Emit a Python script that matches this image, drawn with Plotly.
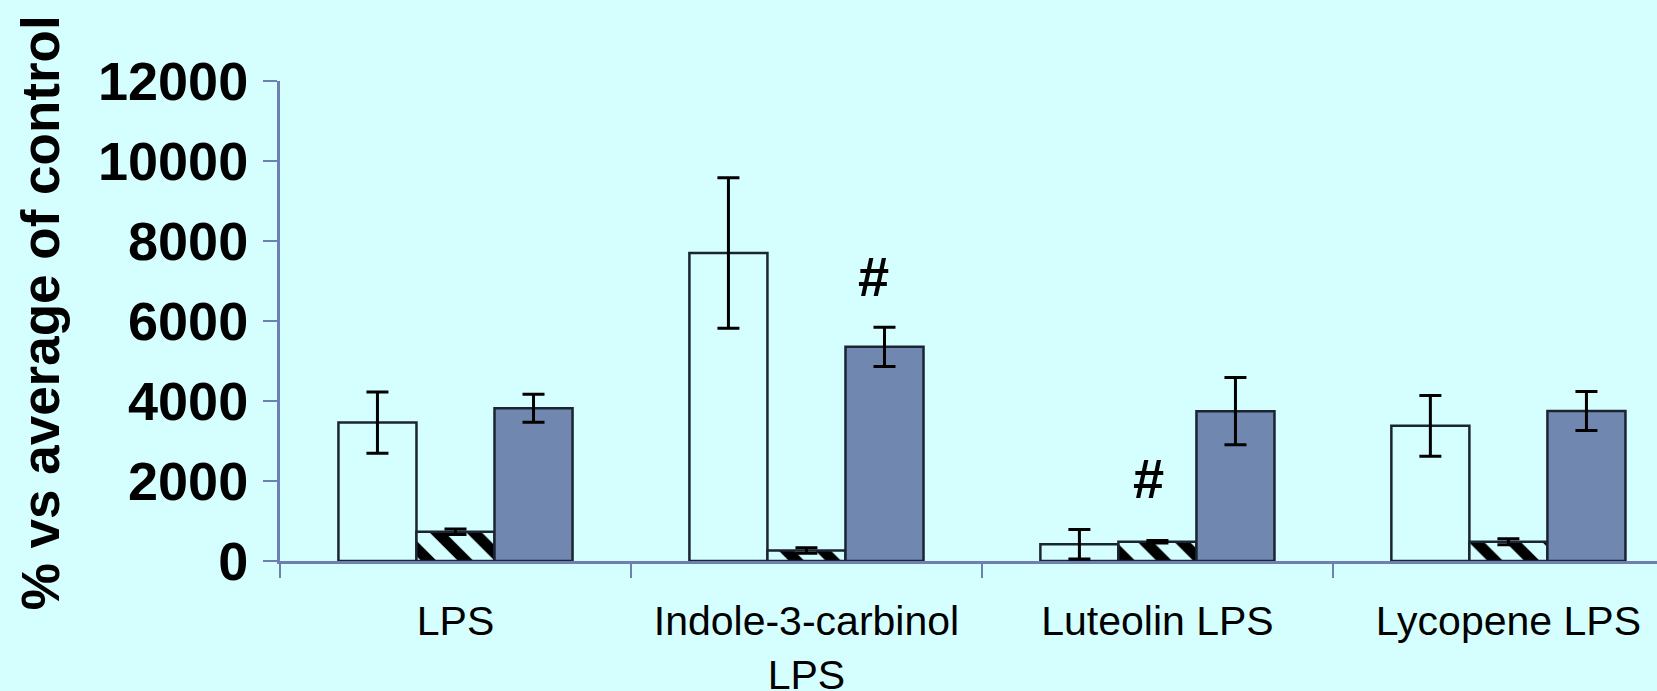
import plotly.graph_objects as go

# ---- data ----
categories = ["LPS", "Indole-3-carbinol<br>LPS", "Luteolin LPS", "Lycopene LPS"]

open_values = [3460, 7700, 420, 3380]
open_errors = [765, 1880, 370, 760]

hatched_values = [730, 262, 480, 480]
hatched_errors = [70, 70, 30, 75]

filled_values = [3820, 5355, 3745, 3750]
filled_errors = [350, 490, 840, 490]

y_ticks = [0, 2000, 4000, 6000, 8000, 10000, 12000]
y_tick_labels = ["0", "2000", "4000", "6000", "8000", "10000", "12000"]

y_title = "% vs average of control"

sig_text = ["#", "#"]
sig_category = [1, 2]
sig_level = [7120, 2065]
sig_offset = [0.19, -0.025]   # horizontal nudge in category units

# ---- style ----
BG = "#D5FFFF"
AXIS = "#6E80B0"
OUTLINE = "#1B2433"
FILL = "#7088B0"
FONT = "Liberation Sans, Arial, sans-serif"

W, H = 1657, 691
LEFT, TOP, BOTTOM = 279.5, 81, 129.5
CAT_PX = 351.1
plot_w = W - LEFT
plot_h = H - TOP - BOTTOM

err_style = dict(type="data", color="black", thickness=3, width=11, visible=True)
line_style = dict(color=OUTLINE, width=2.5)

fig = go.Figure()
fig.add_trace(go.Bar(
    x=categories, y=open_values, name="A",
    marker=dict(color=BG, line=line_style),
    error_y=dict(array=open_errors, **err_style),
))
fig.add_trace(go.Bar(
    x=categories, y=hatched_values, name="B",
    marker=dict(color=BG, line=line_style,
                pattern=dict(shape="\\", fgcolor="black", bgcolor=BG,
                             size=26, solidity=0.42, fillmode="replace")),
    error_y=dict(array=hatched_errors, **err_style),
))
fig.add_trace(go.Bar(
    x=categories, y=filled_values, name="C",
    marker=dict(color=FILL, line=line_style),
    error_y=dict(array=filled_errors, **err_style),
))

for txt, c, lvl, off in zip(sig_text, sig_category, sig_level, sig_offset):
    fig.add_annotation(x=c + off, y=lvl, xref="x", yref="y", text=txt,
                       showarrow=False,
                       font=dict(family=FONT, size=56, color="black", weight="bold"))

# rotated y-axis title
fig.add_annotation(
    text=y_title, textangle=-90, showarrow=False,
    xref="paper", yref="paper",
    x=(40 - LEFT) / plot_w, y=(H - BOTTOM - 313) / plot_h,
    xanchor="center", yanchor="middle",
    font=dict(family=FONT, size=53, color="black", weight="bold"),
)

x_max = -0.5 + plot_w / CAT_PX

fig.update_layout(
    width=W, height=H,
    margin=dict(l=LEFT, r=0, t=TOP, b=BOTTOM, pad=0),
    paper_bgcolor=BG, plot_bgcolor=BG,
    barmode="group", bargap=0.333, bargroupgap=0,
    showlegend=False,
    font=dict(family=FONT, color="black"),
)
fig.update_xaxes(
    type="category", range=[-0.5, x_max],
    showline=True, linecolor=AXIS, linewidth=3,
    ticks="outside", tickson="boundaries", ticklen=14, tickwidth=2, tickcolor=AXIS,
    showgrid=False, zeroline=False,
    tickfont=dict(family=FONT, size=41, color="black"),
    ticklabelstandoff=22,
    automargin=False,
)
fig.update_yaxes(
    range=[0, 12000], tickvals=y_ticks, ticktext=y_tick_labels,
    showline=True, linecolor=AXIS, linewidth=3,
    ticks="outside", ticklen=14, tickwidth=2, tickcolor=AXIS,
    showgrid=False, zeroline=False,
    tickfont=dict(family=FONT, size=54, color="black", weight="bold"),
    ticklabelstandoff=4,
    automargin=False,
)

fig.write_html("out.html")
